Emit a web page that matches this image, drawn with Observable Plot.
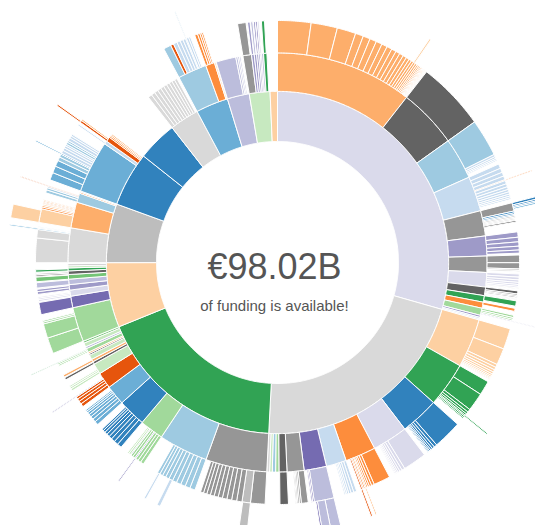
<!DOCTYPE html>
<html>
<head>
<meta charset="utf-8">
<script src="https://cdn.jsdelivr.net/npm/d3@7"></script>
<script src="https://cdn.jsdelivr.net/npm/@observablehq/plot@0.6"></script>
<style>
  html, body { margin: 0; padding: 0; background: #fff; }
  svg { display: block; }
</style>
</head>
<body>
<div id="chart"></div>
<script>
// ---- Data: funding (€ billions) per programme ----
// ring 1: [id, value, tone]
const ring1 = [
  ["A", 28.84, "p3"], ["B", 20.97, "k3"], ["C", 17.70, "g0"], ["D", 5.99, "o3"],
  ["E", 5.45, "k2"], ["F", 5.04, "b0"], ["G", 3.68, "b0"], ["H", 2.72, "k3"],
  ["I", 3.00, "b1"], ["J", 2.04, "p2"], ["K", 1.91, "g3"], ["L", 0.68, "o3"]
];
// ring 2: [id, parent, value or list of values, tone]
const ring2 = [
  ["A1","A",10.35,"o2"], ["A2","A",4.49,"k0"], ["A3","A",3.13,"b2"], ["A4","A",2.64,"b3"],
  ["A5","A",1.91,"k1"], ["A6","A",1.50,"p1"], ["A7","A",1.23,"k1"], ["A8","A",1.09,"p3"],
  ["A9","A",0.65,"k0"], ["A10","A",0.49,"g0"], ["A11","A",0.46,"o1"], ["A12","A",0.54,"g2"],
  ["A13","A",0.16,"p1"], ["A14","A",0.11,"b3"], ["A15","A",0.09,"p3"],
  ["B1","B",3.70,"o3"], ["B2","B",3.38,"g0"], ["B3","B",2.91,"b0"], ["B4","B",2.67,"p3"],
  ["B5","B",2.31,"o1"], ["B6","B",1.52,"b3"], ["B7","B",1.69,"p0"], ["B8","B",1.28,"k1"],
  ["B9","B",0.60,"k0"], ["B10","B",0.25,"g2"], ["B11","B",0.25,"b2"], ["B12","B",0.20,"g3"],
  ["B13","B",0.20,"k3"],
  ["C1","C",4.63,"k1"], ["C2","C",3.73,"b2"], ["C3","C",1.80,"g2"], ["C4","C",2.10,"b0"],
  ["C5","C",1.50,"b1"], ["C6","C",1.23,"o0"], ["C7","C",0.82,"g3"], ["C8","C",0.20,"k0"],
  ["C9","C",0.20,"o2"], ["C10","C",0.35,"g3"], ["C11","C",0.12,"k0"], ["C12","C",0.12,"o2"],
  ["C13","C",0.30,"g2"], ["C14","C",0.15,"p2"], ["C15","C",0.30,"g3"], ["C16","C",0.15,"g1"],
  ["D1","D",2.61,"g2"], ["D2","D",0.87,"p0"], ["D3","D",0.46,"p3"], ["D4","D",0.41,"p1"],
  ["D5","D",0.41,"p2"], ["D6","D",0.35,"g1"], ["D7","D",0.27,"k0"], ["D8","D",0.22,"g0"],
  ["D9","D",0.16,"g3"], ["D10","D",0.14,"k2"],
  ["E1","E",2.61,"k3"], ["E2","E",1.96,"o2"], ["E3","E",0.70,"b2"], ["E4","E",0.10,"o1"], ["E5","E",0.07,"b3"],
  ["F1","F",3.95,"b1"], ["F2","F",0.25,"b3"], ["F3","F",0.35,"o0"], ["F4","F",[0.12,0.10],"o1"], ["F5","F",0.10,"o2"],
  ["H1","H",[0.30,0.29,0.28,0.27,0.26,0.25,0.24,0.23,0.22,0.20],"k3"],
  ["I1","I",2.18,"b2"], ["I2","I",0.68,"o1"], ["I3","I",0.10,"o3"],
  ["J1","J",1.50,"p2"], ["J2","J",[0.15,0.12,0.10],"p2"],
  ["K1","K",0.65,"k1"], ["K2","K",[0.20,0.18,0.15,0.12,0.10],"p1"], ["K3","K",0.15,"p2"], ["K4","K",0.25,"g0"]
];
const ring3 = [
  ["A1a","A1",2.18,"o2"], ["A1b","A1",1.72,"o2"], ["A1c","A1",1.23,"o2"],
  ["A1s","A1",[0.52,0.47,0.44,0.40,0.37,0.34,0.31,0.28,0.26,0.24,0.21,0.18,0.16,0.14,0.13,0.11,0.10,0.08,0.07,0.06,0.05,0.05,0.04,0.04,0.03,0.03,0.02,0.02],"o2"],
  ["A2a","A2",4.49,"k0"],
  ["A3a","A3",2.45,"b2"], ["A3s","A3",[0.15,0.12,0.10,0.08],"b3"],
  ["A4s","A4",[0.30,0.28,0.26,0.25],"b3"], ["A4o","A4",0.06,"o1"], ["A4u","A4",[0.22,0.20,0.18,0.16,0.15,0.13,0.12,0.10],"b3"],
  ["A5a","A5",0.55,"k1"], ["A5b","A5",[0.12,0.10,0.08],"b0"], ["A5c","A5",[0.10,0.08,0.08,0.06],"k2"], ["A5d","A5",0.10,"k0"],
  ["A6s","A6",[0.35,0.30,0.28,0.25,0.20],"p1"],
  ["A7a","A7",0.50,"k1"], ["A7b","A7",0.40,"k1"], ["A7s","A7",[0.10,0.08],"k2"],
  ["A8s","A8",[0.20,0.18,0.16,0.14,0.12,0.10],"p3"], ["A8t","A8",0.05,"k2"],
  ["A9a","A9",0.20,"k0"], ["A9s","A9",[0.10,0.08],"k1"], ["A9b","A9",0.08,"k0"], ["A9t","A9",[0.05,0.05],"k2"],
  ["A10a","A10",0.35,"g0"], ["A11a","A11",0.20,"o1"],
  ["A12s","A12",[0.15,0.12,0.10],"g2"], ["A12p","A12",0.06,"p1"],
  ["B1a","B1",1.36,"o3"], ["B1b","B1",1.09,"o3"], ["B1s","B1",[0.20,0.18,0.16,0.14,0.12,0.10,0.08,0.06,0.05],"o3"],
  ["B2a","B2",0.95,"g0"], ["B2b","B2",1.20,"g0"], ["B2s","B2",[0.20,0.15,0.12],"g0"], ["B2L","B2",0.08,"g0"], ["B2t","B2",[0.10,0.08],"g0"],
  ["B3a","B3",1.90,"b0"], ["B3s","B3",[0.20,0.16,0.13,0.10,0.08,0.06],"b0"],
  ["B4a","B4",1.55,"p3"], ["B4s","B4",[0.20,0.16,0.13,0.10,0.08,0.06],"p3"],
  ["B5a","B5",1.10,"o1"], ["B5s","B5",[0.18,0.15,0.12,0.10],"o1"], ["B5L","B5",0.08,"o2"], ["B5t","B5",[0.10,0.08],"o1"], ["B5M","B5",0.10,"o0"],
  ["B6s","B6",[0.20,0.18,0.15,0.12,0.10,0.08],"b3"],
  ["B7a","B7",1.30,"p2"], ["B7s","B7",[0.10,0.08],"p0"],
  ["B8a","B8",0.45,"k1"], ["B8s","B8",[0.12,0.10,0.08,0.06],"k1"],
  ["B9a","B9",0.55,"k0"],
  ["C1a","C1",0.95,"k1"], ["C1b","C1",0.55,"k2"], ["C1s","C1",[0.35,0.33,0.31,0.30,0.28,0.27,0.25,0.24,0.22,0.20],"k1"],
  ["C2s","C2",[0.35,0.33,0.31,0.30,0.28,0.26,0.24,0.22,0.20,0.18],"b2"],
  ["C3s","C3",[0.22,0.20,0.18],"g2"], ["C3p","C3",0.08,"p1"], ["C3t","C3",[0.16,0.14],"g2"], ["C3q","C3",0.06,"p1"], ["C3u","C3",[0.12,0.10],"g3"],
  ["C4s","C4",[0.30,0.27,0.25,0.22,0.20,0.18,0.15,0.12],"b0"],
  ["C5s","C5",[0.25,0.22,0.20,0.18,0.15,0.12,0.10],"b1"],
  ["C6s","C6",[0.22,0.20,0.18,0.15],"o0"], ["C6p","C6",0.06,"p1"],
  ["C7s","C7",[0.15,0.12,0.10],"g3"],
  ["C8a","C8",0.15,"k0"], ["C9a","C9",0.15,"o2"], ["C13a","C13",[0.10,0.10],"g2"], ["C13g","C13",0.05,"g0"],
  ["D1a","D1",1.05,"g2"], ["D1b","D1",0.95,"g2"], ["D1s","D1",[0.12,0.10],"g2"],
  ["D2a","D2",0.80,"p0"], ["D3s","D3",[0.12,0.10,0.08],"p3"], ["D4s","D4",[0.18,0.15],"p1"],
  ["D5a","D5",0.35,"p2"], ["D6a","D6",0.30,"g1"], ["D7a","D7",0.10,"k0"], ["D7b","D7",0.08,"k1"], ["D8a","D8",0.15,"g0"],
  ["E1a","E1",1.60,"k3"], ["E1b","E1",0.55,"k3"], ["E1c","E1",0.08,"b1"], ["E1d","E1",[0.06,0.05],"b3"],
  ["E2a","E2",0.90,"o3"], ["E2s","E2",[0.12,0.10],"o1"], ["E2t","E2",[0.10,0.08],"o3"], ["E2u","E2",0.06,"o0"], ["E2v","E2",[0.08,0.06],"o2"],
  ["E3s","E3",[0.20,0.15],"b2"], ["E3t","E3",0.10,"b3"], ["E3o","E3",0.05,"o0"],
  ["F1a","F1",[0.50,0.45,0.40],"b1"], ["F1b","F1",[0.25,0.20],"b2"], ["F1c","F1",0.08,"b0"],
  ["F1d","F1",[0.20,0.18,0.15,0.12],"b3"], ["F1e","F1",[0.15,0.12],"b2"], ["F1f","F1",[0.20,0.15,0.12],"b3"],
  ["F2a","F2",0.10,"b3"], ["F3a","F3",0.15,"o0"], ["F3b","F3",0.10,"o2"],
  ["I1a","I1",0.50,"b2"], ["I1b","I1",0.20,"o0"], ["I1s","I1",[0.25,0.22,0.20,0.18],"b3"], ["I1h","I1",0.06,"b2"], ["I1t","I1",[0.15,0.12],"b3"],
  ["I2s","I2",[0.20,0.15,0.12,0.10],"o1"],
  ["K1a","K1",0.55,"k1"],
  ["K2a","K2.0",0.16,"p1"], ["K2b","K2.1",0.14,"p2"], ["K2c","K2.2",0.12,"p1"], ["K2d","K2.3",0.10,"p0"], ["K2e","K2.4",0.08,"p2"],
  ["K4a","K4",0.20,"g0"]
];
const ring4 = [
  ["A1t","A1s.13",0.10,"o3"], ["A4v","A4o",0.06,"o1"],
  ["A5e","A5a",[0.15,0.10,0.08],"b0"], ["A5f","A5a",0.10,"b1"],
  ["A12q","A12p",0.05,"p2"], ["B2m","B2L",0.08,"g0"],
  ["B5n","B5L",0.08,"o2"], ["B5o","B5M",0.10,"o0"],
  ["B7b","B7a",0.60,"p2"], ["B7c","B7a",0.50,"p2"], ["B7d","B7a",0.10,"p0"],
  ["C1c","C1b",0.50,"k2"], ["C2t","C2s.5",0.20,"b3"], ["C2u","C2s.9",0.12,"b3"],
  ["C3v","C3p",0.08,"p1"], ["C6q","C6p",0.06,"p1"], ["C13h","C13g",0.05,"g0"],
  ["E1e","E1c",0.08,"b1"], ["E2w","E2a",0.80,"o3"], ["E3p","E3o",0.05,"o0"],
  ["F1g","F1c",0.08,"b1"], ["F3c","F3a",0.10,"o0"], ["I1i","I1h",0.05,"b2"]
];
// colour categories (d3 category20c order)
const tones = ["b0","b1","b2","b3","o0","o1","o2","o3","g0","g1","g2","g3","p0","p1","p2","p3","k0","k1","k2","k3"];
const palette = ["#3182bd","#6baed6","#9ecae1","#c6dbef","#e6550d","#fd8d3c","#fdae6b","#fdd0a2",
                 "#31a354","#74c476","#a1d99b","#c7e9c0","#756bb1","#9e9ac8","#bcbddc","#dadaeb",
                 "#636363","#969696","#bdbdbd","#d9d9d9"];
const subtitle = "of funding is available!";

// ---- Build hierarchy ----
const rows = [{id: "root", parent: null, value: 0, tone: null}];
ring1.forEach(([id, v, t]) => rows.push({id, parent: "root", value: v, tone: t}));
for (const list of [ring2, ring3, ring4]) {
  for (const [id, p, v, t] of list) {
    if (Array.isArray(v)) v.forEach((x, i) => rows.push({id: id + "." + i, parent: p, value: x, tone: t}));
    else rows.push({id, parent: p, value: v, tone: t});
  }
}
const root = d3.stratify().id(d => d.id).parentId(d => d.parent)(rows);
root.eachAfter(n => {
  const s = n.children ? d3.sum(n.children, c => c.value) : 0;
  n.value = Math.max(n.data.value || 0, s);
});
const R = 270.6;
d3.partition().size([2 * Math.PI, R * R])(root);

const polar = (a, r) => [r * Math.sin(a), -r * Math.cos(a)];
const pts = [];
root.descendants().slice(1).forEach(n => {
  const a0 = n.x0, a1 = n.x1, r0 = Math.sqrt(n.y0), r1 = Math.sqrt(n.y1);
  const k = Math.max(1, Math.ceil((a1 - a0) / 0.008));
  const loop = [];
  for (let i = 0; i <= k; i++) loop.push(polar(a0 + (a1 - a0) * i / k, r1));
  for (let i = k; i >= 0; i--) loop.push(polar(a0 + (a1 - a0) * i / k, r0));
  loop.push(loop[0]);
  loop.forEach(([x, y]) => pts.push({id: n.id, tone: n.data.tone, x, y}));
});

const font = "'Liberation Sans', Arial, Helvetica, sans-serif";
const chart = Plot.plot({
  width: 535,
  height: 525,
  margin: 0,
  x: {domain: [-277, 258], range: [0, 535], axis: null},
  y: {domain: [-262, 263], range: [0, 525], axis: null},
  color: {domain: tones, range: palette},
  marks: [
    Plot.line(pts, {x: "x", y: "y", z: "id", fill: "tone", stroke: "white", strokeWidth: 1, strokeLinejoin: "miter"}),
    Plot.text([root], {
      x: d => polar(d.x0, Math.sqrt(d.y0))[0] * 0, y: d => 0 * d.y0,
      text: d => "€" + d3.format(".2f")(d.value) + "B",
      lineAnchor: "bottom", dx: -3, dy: 16, fontSize: 36, fontFamily: font, fill: "#555"
    }),
    Plot.text([root], {
      x: d => 0 * d.y0, y: d => 0 * d.y0,
      text: () => subtitle,
      lineAnchor: "bottom", dx: -3, dy: 48, fontSize: 15, fontFamily: font, fill: "#555"
    })
  ]
});
document.getElementById("chart").appendChild(chart);
</script>
</body>
</html>
